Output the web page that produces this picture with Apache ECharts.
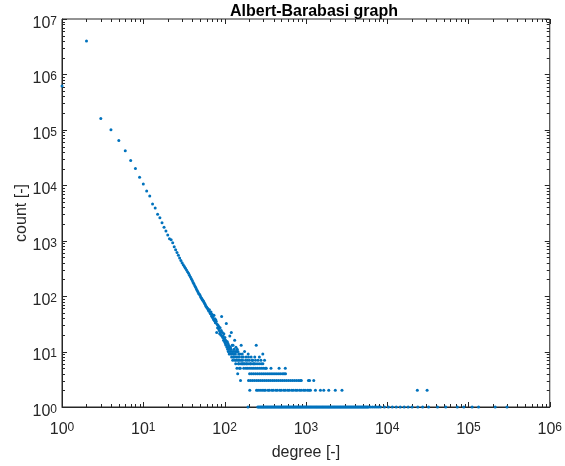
<!DOCTYPE html>
<html><head><meta charset="utf-8">
<script src="https://cdn.jsdelivr.net/npm/echarts@6/dist/echarts.min.js"></script>
<style>html,body{margin:0;padding:0;background:#fff}#c{width:565px;height:466px}</style>
</head><body><div id="c"></div>
<script>
// ---- data ----
// counts for degree 1, 2, 3, ... 135 (index + 1 = degree)
const curveCounts = [
 620000, 4000000, 160000, 100000, 64000, 42000, 28000, 20000, 14000, 10500,
 7900, 6400, 4600, 3900, 3000, 2600, 2100, 1750, 1500, 1270,
 1080, 1040, 920, 780, 690, 610, 545, 490, 440, 400,
 368, 342, 318, 296, 276, 258, 238, 221, 205, 191,
 177, 165, 154, 144, 135, 126, 119, 112, 108, 103,
 96, 92, 87, 84, 81, 77, 73, 70, 66, 64,
 61, 60, 56, 54, 57, 50, 48, 52, 44, 47,
 41, 43, 38, 45, 36, 39, 33, 37, 35, 22,
 31, 27, 30, 26, 28, 24, 21, 27, 22, 20,
 24, 43, 19, 22, 18, 19, 16, 21, 17, 15,
 18, 14, 16, 13, 32, 15, 12, 15, 11, 14,
 10, 13, 12, 9, 11, 19, 10, 12, 9, 11,
 22, 8, 10, 13, 9, 7, 13, 10, 8, 8,
 11, 9, 16, 7, 10
];
// scattered points above degree 135
const extraDegrees = [136,137,138,139,140,141,142,143,144,146,147,149,150,151,152,153,154,160,161,162,164,165,167,170,173,176,181,184,186,191,195,197,202,208,212,218,222,230,235,240,245,258,268,280,295,310];
const extraCounts  = [9,6,12,8,7,10,5,11,8,10,7,9,6,8,5,7,9,13,7,8,6,9,7,8,6,10,7,8,6,7,9,8,7,6,8,7,7,6,8,7,13,7,8,7,9,7];
// degrees that have count 6, 5, 4, 3, 2, 1
const degCount6 = [148,159,168,178,189,199,211,224,237,251,266,282,296];
const degCount5 = [156,172,183,193,205,217,229,242,256,271,287,303,318,326,372,468,558];
const degCount4 = [145,203,214,226,239,253,268,283,299,316,334,353,373,394,416,440,465,491,519,540,562];
const degCount3 = [157,197,208,220,233,247,261,276,292,309,327,346,366,388,410,434,460,487,515,545,577,611,647,685,725,767,812,852,879,1075,1110,1250];
const degCount2 = [204,247,258,273,289,305,318,342,356,381,398,427,446,478,499,534,559,597,625,668,700,746,782,835,875,934,979,1045,1095,1138,1310,1510,1660,1910,2300,2780,23500,31000];
const degCount1 = [194,256,263,271,279,287,295,303,312,321,330,339,349,359,369,379,390,401,412,424,436,449,462,475,488,502,516,531,546,562,578,594,611,628,646,665,684,703,723,743,764,786,808,831,855,879,904,930,956,983,1011,1040,1070,1100,1131,1163,1196,1230,1265,1301,1338,1376,1415,1455,1496,1539,1583,1628,1674,1722,1771,1821,1873,1926,1981,2037,2095,2154,2216,2279,2344,2410,2479,2549,2622,2696,2773,2851,2933,3016,3102,3189,3280,3373,3469,3568,3669,3773,3881,3991,4105,4221,4341,4464,4591,4721,4856,4993,5135,5281,5431,5585,5744,5907,6247,6607,7000,7390,7800,8267,9247,10340,11570,12940,14470,16190,18110,20260,23800,27300,32300,41600,52500,72900,87700,111000,133000,213000,298000];
// axis decades (exponents of 10)
const xExponents = [0,1,2,3,4,5,6];
const yExponents = [0,1,2,3,4,5,6,7];

// ---- build ----
const points = [];
curveCounts.forEach((c, i) => points.push([i + 1, c]));
extraDegrees.forEach((d, i) => points.push([d, extraCounts[i]]));
[[degCount6,6],[degCount5,5],[degCount4,4],[degCount3,3],[degCount2,2],[degCount1,1]]
  .forEach(([arr, c]) => arr.forEach(d => points.push([d, c])));

const XMIN = Math.pow(10, xExponents[0]), XMAX = Math.pow(10, xExponents[xExponents.length-1]);
const YMIN = Math.pow(10, yExponents[0]), YMAX = Math.pow(10, yExponents[yExponents.length-1]);
const MAJ = 5, MIN = 3;
const xTicks = [], yTicks = [];
xExponents.forEach((e, i) => {
  xTicks.push([Math.pow(10, e), YMIN, MAJ]);
  if (i < xExponents.length - 1) for (let m = 2; m <= 9; m++) xTicks.push([m * Math.pow(10, e), YMIN, MIN]);
});
yExponents.forEach((e, i) => {
  yTicks.push([XMIN, Math.pow(10, e), MAJ]);
  if (i < yExponents.length - 1) for (let m = 2; m <= 9; m++) yTicks.push([XMIN, m * Math.pow(10, e), MIN]);
});

const INK = '#262626';
const FONT = 'Liberation Sans, Arial, Helvetica, sans-serif';
const supFmt = v => '{b|10}{s|' + Math.round(Math.log10(v)) + '}';
const rich = {
  b: {fontSize: 16, lineHeight: 16, color: INK, fontFamily: FONT, verticalAlign: 'bottom'},
  s: {fontSize: 12, lineHeight: 12, color: INK, fontFamily: FONT, verticalAlign: 'top', padding: [0, 0, 8, 0]}
};

const chart = echarts.init(document.getElementById('c'), null, {renderer: 'canvas'});
chart.setOption({
  animation: false,
  backgroundColor: '#ffffff',
  title: {
    text: 'Albert-Barabasi graph', left: 309, top: -1, textAlign: 'center',
    textStyle: {fontSize: 16, fontWeight: 'bold', color: '#000', fontFamily: FONT}
  },
  grid: {left: 62, right: 10, top: 19, bottom: 59, show: true, borderColor: INK, borderWidth: 1, backgroundColor: '#fff'},
  xAxis: {
    type: 'log', logBase: 10, min: XMIN, max: XMAX, splitNumber: 6,
    name: 'degree [-]', nameLocation: 'middle', nameGap: 38, nameMoveOverlap: false,
    nameTextStyle: {fontSize: 16, color: INK, fontFamily: FONT},
    axisLine: {show: true, lineStyle: {color: INK, width: 1}},
    axisTick: {show: false}, splitLine: {show: false},
    axisLabel: {margin: 15, formatter: supFmt, rich: rich, showMaxLabel: true, showMinLabel: true}
  },
  yAxis: {
    type: 'log', logBase: 10, min: YMIN, max: YMAX, splitNumber: 7,
    name: 'count [-]', nameLocation: 'middle', nameGap: 32, nameRotate: 90, nameMoveOverlap: false,
    nameTextStyle: {fontSize: 16, color: INK, fontFamily: FONT},
    axisLine: {show: true, lineStyle: {color: INK, width: 1}},
    axisTick: {show: false}, splitLine: {show: false},
    axisLabel: {margin: 5, formatter: supFmt, rich: rich, padding: [9, 0, 0, 0]}
  },
  series: [
    {
      type: 'custom', z: 1, silent: true, data: xTicks,
      renderItem: (p, api) => {
        const v = api.value(0), len = api.value(2);
        const b = api.coord([v, YMIN]), t = api.coord([v, YMAX]);
        const x = Math.round(b[0]) + 0.5;
        return {type: 'group', children: [
          {type: 'line', shape: {x1: x, y1: b[1], x2: x, y2: b[1] - len}, style: {stroke: INK, lineWidth: 1}},
          {type: 'line', shape: {x1: x, y1: t[1], x2: x, y2: t[1] + len}, style: {stroke: INK, lineWidth: 1}}
        ]};
      }
    },
    {
      type: 'custom', z: 1, silent: true, data: yTicks,
      renderItem: (p, api) => {
        const v = api.value(1), len = api.value(2);
        const l = api.coord([XMIN, v]), r = api.coord([XMAX, v]);
        const y = Math.round(l[1]) + 0.5;
        return {type: 'group', children: [
          {type: 'line', shape: {x1: l[0], y1: y, x2: l[0] + len, y2: y}, style: {stroke: INK, lineWidth: 1}},
          {type: 'line', shape: {x1: r[0], y1: y, x2: r[0] - len, y2: y}, style: {stroke: INK, lineWidth: 1}}
        ]};
      }
    },
    {
      type: 'scatter', z: 3, clip: false, data: points,
      symbol: 'circle', symbolSize: 3,
      itemStyle: {color: '#0072BD', opacity: 1}
    }
  ]
});
</script></body></html>
